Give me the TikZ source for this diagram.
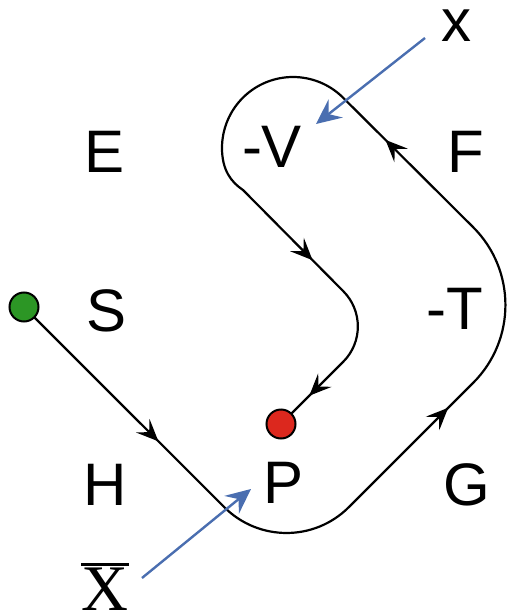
\documentclass[tikz,border=0pt]{standalone}
\usepackage{fontspec}
\setmainfont{Liberation Sans}
\newfontfamily\serifX{Liberation Serif}
\usetikzlibrary{arrows.meta,decorations.markings,backgrounds}
\definecolor{flowblue}{HTML}{4A6EB0}
\definecolor{startgreen}{HTML}{2C9625}
\definecolor{endred}{HTML}{DC281E}
\tikzset{
  headtip/.tip={Stealth[length=22pt,width=19pt,inset=9pt]},
  bluetip/.tip={Stealth[length=25pt,width=23pt,inset=9pt]},
  lbl/.style={font=\fontsize{60}{60}\selectfont, inner sep=0pt, anchor=base},
  dot/.style={circle, draw=black, line width=2pt, minimum size=29pt, inner sep=0pt},
  flow/.style={line width=2.2pt, line join=round, postaction={decorate},
    decoration={markings,
      mark=at position 190pt with {\arrow{headtip}},
      mark=at position 562pt with {\arrow{headtip}},
      mark=at position 894pt with {\arrow{headtip}},
      mark=at position 1269pt with {\arrow{headtip}},
      mark=at position 1439pt with {\arrow{headtip}}}},
  probe/.style={draw=flowblue, line width=2.4pt, -bluetip}
}
\begin{document}
\begin{tikzpicture}[x=1pt,y=-1pt]
\useasboundingbox (0,0) rectangle (508,615);

% grid of labels
\node[lbl] (E)  at (105,172) {E};
\node[lbl] (V)  at (272,167) {-V};
\node[lbl] (F)  at (466,172) {F};
\node[lbl] (S)  at (107,331) {S};
\node[lbl] (T)  at (455,329) {-T};
\node[lbl] (H)  at (105,505) {H};
\node[lbl] (P)  at (284,503) {P};
\node[lbl] (G)  at (467,505) {G};
\node[lbl] (x)  at (456,42) {x};
\node[lbl, font=\serifX\fontsize{65}{65}\selectfont] (xbar) at (105,610) {X};
\draw[line width=2.6pt] ([yshift=3pt]xbar.north west) -- ([yshift=3pt]xbar.north east);

% start and end points
\node[dot, fill=startgreen] (g) at (24,307) {};
\node[dot, fill=endred] (r) at (281,424) {};

% trajectory from start to end
\begin{pgfonlayer}{background}
\draw[flow] (g.center) -- (224.3,507.2)
  arc[start angle=135, end angle=45, radius=88] -- (473.2,382.8)
  arc[start angle=45, end angle=-45, radius=110] -- (343.2,97.8)
  arc[start angle=-45, end angle=-180, radius=71]
  .. controls (222,170) and (231,182) .. (243,190) -- (343.2,291.1)
  arc[start angle=-45, end angle=45, radius=50] -- (r.center);
\end{pgfonlayer}

% blue input arrows
\coordinate (xs) at (425,38);
\coordinate (xe) at (316,124);
\coordinate (bs) at (142,578);
\coordinate (be) at (251,489);
\draw[probe] (xs) -- (xe);
\draw[probe] (bs) -- (be);
\end{tikzpicture}
\end{document}
